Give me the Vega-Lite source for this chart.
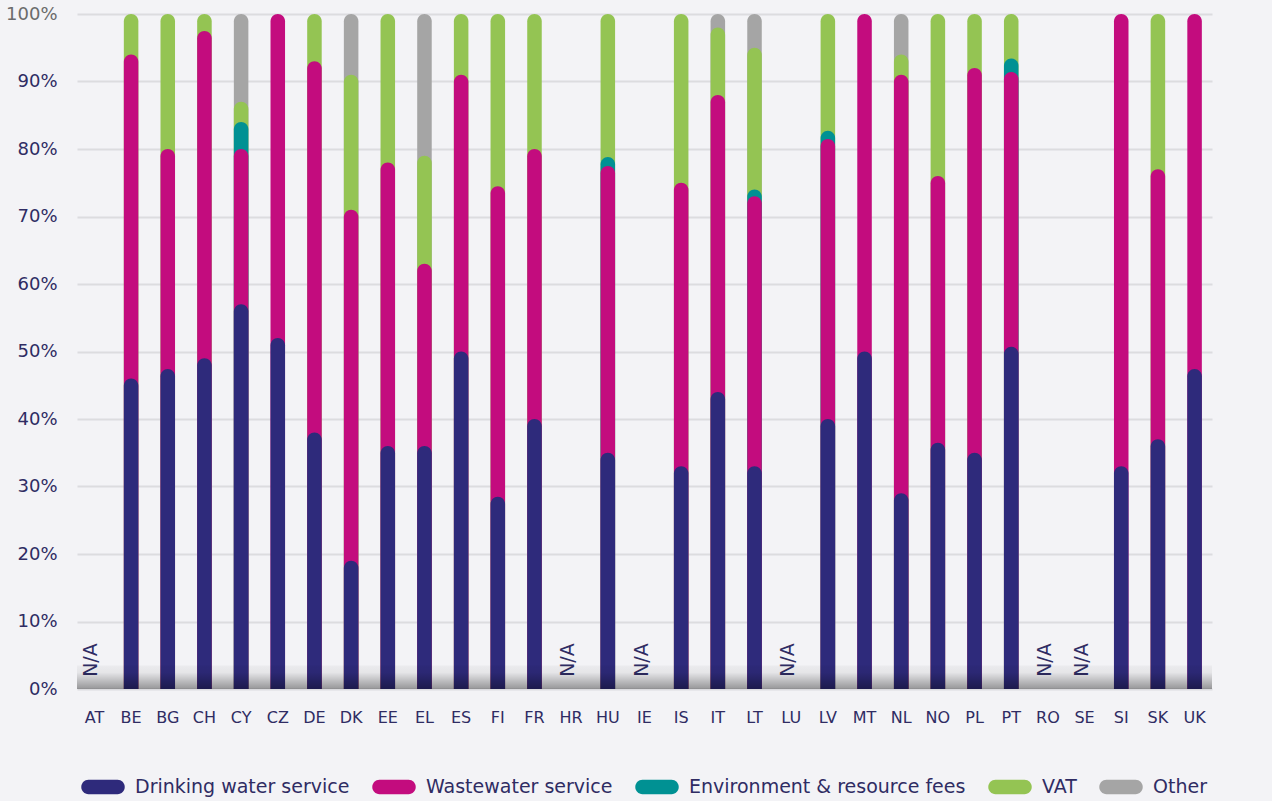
{
  "$schema": "https://vega.github.io/schema/vega-lite/v6.json",
  "width": 1135,
  "height": 675,
  "autosize": "none",
  "padding": {"left": 77, "top": 14, "right": 60, "bottom": 112},
  "background": "#f3f3f6",
  "config": {
    "view": {"stroke": null},
    "font": "DejaVu Sans",
    "axis": {"labelFont": "DejaVu Sans", "labelColor": "#2f2c63", "domain": false, "ticks": false}
  },
  "datasets": {
    "shares": [
      {"country": "BE", "k": 1, "category": "Drinking water service", "value": 46},
      {"country": "BE", "k": 2, "category": "Wastewater service", "value": 48},
      {"country": "BE", "k": 4, "category": "VAT", "value": 6},
      {"country": "BG", "k": 1, "category": "Drinking water service", "value": 47.4},
      {"country": "BG", "k": 2, "category": "Wastewater service", "value": 32.6},
      {"country": "BG", "k": 4, "category": "VAT", "value": 20},
      {"country": "CH", "k": 1, "category": "Drinking water service", "value": 49},
      {"country": "CH", "k": 2, "category": "Wastewater service", "value": 48.5},
      {"country": "CH", "k": 4, "category": "VAT", "value": 2.5},
      {"country": "CY", "k": 1, "category": "Drinking water service", "value": 57},
      {"country": "CY", "k": 2, "category": "Wastewater service", "value": 23},
      {"country": "CY", "k": 3, "category": "Environment & resource fees", "value": 4},
      {"country": "CY", "k": 4, "category": "VAT", "value": 3},
      {"country": "CY", "k": 5, "category": "Other", "value": 13},
      {"country": "CZ", "k": 1, "category": "Drinking water service", "value": 52},
      {"country": "CZ", "k": 2, "category": "Wastewater service", "value": 48},
      {"country": "DE", "k": 1, "category": "Drinking water service", "value": 38},
      {"country": "DE", "k": 2, "category": "Wastewater service", "value": 55},
      {"country": "DE", "k": 4, "category": "VAT", "value": 7},
      {"country": "DK", "k": 1, "category": "Drinking water service", "value": 19},
      {"country": "DK", "k": 2, "category": "Wastewater service", "value": 52},
      {"country": "DK", "k": 4, "category": "VAT", "value": 20},
      {"country": "DK", "k": 5, "category": "Other", "value": 9},
      {"country": "EE", "k": 1, "category": "Drinking water service", "value": 36},
      {"country": "EE", "k": 2, "category": "Wastewater service", "value": 42},
      {"country": "EE", "k": 4, "category": "VAT", "value": 22},
      {"country": "EL", "k": 1, "category": "Drinking water service", "value": 36},
      {"country": "EL", "k": 2, "category": "Wastewater service", "value": 27},
      {"country": "EL", "k": 4, "category": "VAT", "value": 16},
      {"country": "EL", "k": 5, "category": "Other", "value": 21},
      {"country": "ES", "k": 1, "category": "Drinking water service", "value": 50},
      {"country": "ES", "k": 2, "category": "Wastewater service", "value": 41},
      {"country": "ES", "k": 4, "category": "VAT", "value": 9},
      {"country": "FI", "k": 1, "category": "Drinking water service", "value": 28.5},
      {"country": "FI", "k": 2, "category": "Wastewater service", "value": 46},
      {"country": "FI", "k": 4, "category": "VAT", "value": 25.5},
      {"country": "FR", "k": 1, "category": "Drinking water service", "value": 40},
      {"country": "FR", "k": 2, "category": "Wastewater service", "value": 40},
      {"country": "FR", "k": 4, "category": "VAT", "value": 20},
      {"country": "HU", "k": 1, "category": "Drinking water service", "value": 35},
      {"country": "HU", "k": 2, "category": "Wastewater service", "value": 42.5},
      {"country": "HU", "k": 3, "category": "Environment & resource fees", "value": 1.3},
      {"country": "HU", "k": 4, "category": "VAT", "value": 21.2},
      {"country": "IS", "k": 1, "category": "Drinking water service", "value": 33},
      {"country": "IS", "k": 2, "category": "Wastewater service", "value": 42},
      {"country": "IS", "k": 4, "category": "VAT", "value": 25},
      {"country": "IT", "k": 1, "category": "Drinking water service", "value": 44},
      {"country": "IT", "k": 2, "category": "Wastewater service", "value": 44},
      {"country": "IT", "k": 4, "category": "VAT", "value": 10},
      {"country": "IT", "k": 5, "category": "Other", "value": 2},
      {"country": "LT", "k": 1, "category": "Drinking water service", "value": 33},
      {"country": "LT", "k": 2, "category": "Wastewater service", "value": 40},
      {"country": "LT", "k": 3, "category": "Environment & resource fees", "value": 1},
      {"country": "LT", "k": 4, "category": "VAT", "value": 21},
      {"country": "LT", "k": 5, "category": "Other", "value": 5},
      {"country": "LV", "k": 1, "category": "Drinking water service", "value": 40},
      {"country": "LV", "k": 2, "category": "Wastewater service", "value": 41.5},
      {"country": "LV", "k": 3, "category": "Environment & resource fees", "value": 1.2},
      {"country": "LV", "k": 4, "category": "VAT", "value": 17.3},
      {"country": "MT", "k": 1, "category": "Drinking water service", "value": 50},
      {"country": "MT", "k": 2, "category": "Wastewater service", "value": 50},
      {"country": "NL", "k": 1, "category": "Drinking water service", "value": 29},
      {"country": "NL", "k": 2, "category": "Wastewater service", "value": 62},
      {"country": "NL", "k": 4, "category": "VAT", "value": 3},
      {"country": "NL", "k": 5, "category": "Other", "value": 6},
      {"country": "NO", "k": 1, "category": "Drinking water service", "value": 36.5},
      {"country": "NO", "k": 2, "category": "Wastewater service", "value": 39.5},
      {"country": "NO", "k": 4, "category": "VAT", "value": 24},
      {"country": "PL", "k": 1, "category": "Drinking water service", "value": 35},
      {"country": "PL", "k": 2, "category": "Wastewater service", "value": 57},
      {"country": "PL", "k": 4, "category": "VAT", "value": 8},
      {"country": "PT", "k": 1, "category": "Drinking water service", "value": 50.7},
      {"country": "PT", "k": 2, "category": "Wastewater service", "value": 40.7},
      {"country": "PT", "k": 3, "category": "Environment & resource fees", "value": 2},
      {"country": "PT", "k": 4, "category": "VAT", "value": 6.6},
      {"country": "SI", "k": 1, "category": "Drinking water service", "value": 33},
      {"country": "SI", "k": 2, "category": "Wastewater service", "value": 67},
      {"country": "SK", "k": 1, "category": "Drinking water service", "value": 37},
      {"country": "SK", "k": 2, "category": "Wastewater service", "value": 40},
      {"country": "SK", "k": 4, "category": "VAT", "value": 23},
      {"country": "UK", "k": 1, "category": "Drinking water service", "value": 47.4},
      {"country": "UK", "k": 2, "category": "Wastewater service", "value": 52.6}
    ],
    "missing": [
      {"country": "AT", "label": "N/A"},
      {"country": "HR", "label": "N/A"},
      {"country": "IE", "label": "N/A"},
      {"country": "LU", "label": "N/A"},
      {"country": "RO", "label": "N/A"},
      {"country": "SE", "label": "N/A"}
    ],
    "floor": [{"from": 0, "to": 3.5}]
  },
  "layer": [
    {
      "data": {"name": "shares"},
      "transform": [
        {"stack": "value", "groupby": ["country"], "sort": [{"field": "k", "order": "ascending"}], "as": ["v0", "v1"]}
      ],
      "mark": {"type": "bar", "cornerRadiusTopLeft": 7.25, "cornerRadiusTopRight": 7.25},
      "encoding": {
        "x": {
          "field": "country", "type": "nominal",
          "scale": {
            "domain": ["AT","BE","BG","CH","CY","CZ","DE","DK","EE","EL","ES","FI","FR","HR","HU","IE","IS","IT","LT","LU","LV","MT","NL","NO","PL","PT","RO","SE","SI","SK","UK"],
            "paddingInner": 0.604, "paddingOuter": 0.277
          },
          "axis": {"title": null, "labelAngle": 0, "labelFontSize": 16, "labelPadding": 20, "grid": false}
        },
        "y": {
          "field": "v1", "type": "quantitative", "stack": null,
          "scale": {"domain": [0, 100], "nice": false},
          "axis": {
            "title": null, "values": [0,10,20,30,40,50,60,70,80,90,100],
            "labelExpr": "datum.value + '%'", "labelFontSize": 18, "labelPadding": 20,
            "labelColor": {"condition": {"test": "datum.value === 100", "value": "#6b6b6b"}, "value": "#2f2c63"},
            "gridColor": "#dcdcdf", "gridWidth": 2
          }
        },
        "color": {
          "field": "category", "type": "nominal",
          "scale": {
            "domain": ["Drinking water service", "Wastewater service", "Environment & resource fees", "VAT", "Other"],
            "range": ["#2e2a7b", "#c30c7e", "#009193", "#94c453", "#a5a5a5"]
          },
          "legend": {
            "title": null, "orient": "none", "direction": "horizontal",
            "legendX": 4, "legendY": 751, "padding": 0,
            "symbolType": "M-1,0A0.33,0.33,0,0,1,-0.67,-0.33L0.67,-0.33A0.33,0.33,0,0,1,0.67,0.33L-0.67,0.33A0.33,0.33,0,0,1,-1,0Z",
            "symbolSize": 1892, "symbolStrokeWidth": 0, "symbolOpacity": 1,
            "labelFont": "DejaVu Sans", "labelFontSize": 19, "labelColor": "#2f2c63",
            "labelOffset": 10, "columnPadding": 22, "labelLimit": 400
          }
        },
        "order": {"field": "v1", "type": "quantitative", "sort": "descending"}
      }
    },
    {
      "data": {"name": "missing"},
      "mark": {"type": "text", "angle": 270, "align": "left", "baseline": "middle", "fontSize": 19, "font": "DejaVu Sans", "color": "#2f2c63", "dy": -3},
      "encoding": {
        "x": {"field": "country", "type": "nominal"},
        "y": {"datum": 1.8, "type": "quantitative"},
        "text": {"field": "label"}
      }
    },
    {
      "data": {"name": "floor"},
      "mark": {
        "type": "rect",
        "color": {
          "gradient": "linear", "x1": 0, "y1": 0, "x2": 0, "y2": 1,
          "stops": [
            {"offset": 0, "color": "rgba(0,0,0,0.03)"},
            {"offset": 0.3, "color": "rgba(0,0,0,0.06)"},
            {"offset": 1, "color": "rgba(0,0,0,0.38)"}
          ]
        }
      },
      "encoding": {
        "y": {"field": "to", "type": "quantitative"},
        "y2": {"field": "from"}
      }
    }
  ]
}
